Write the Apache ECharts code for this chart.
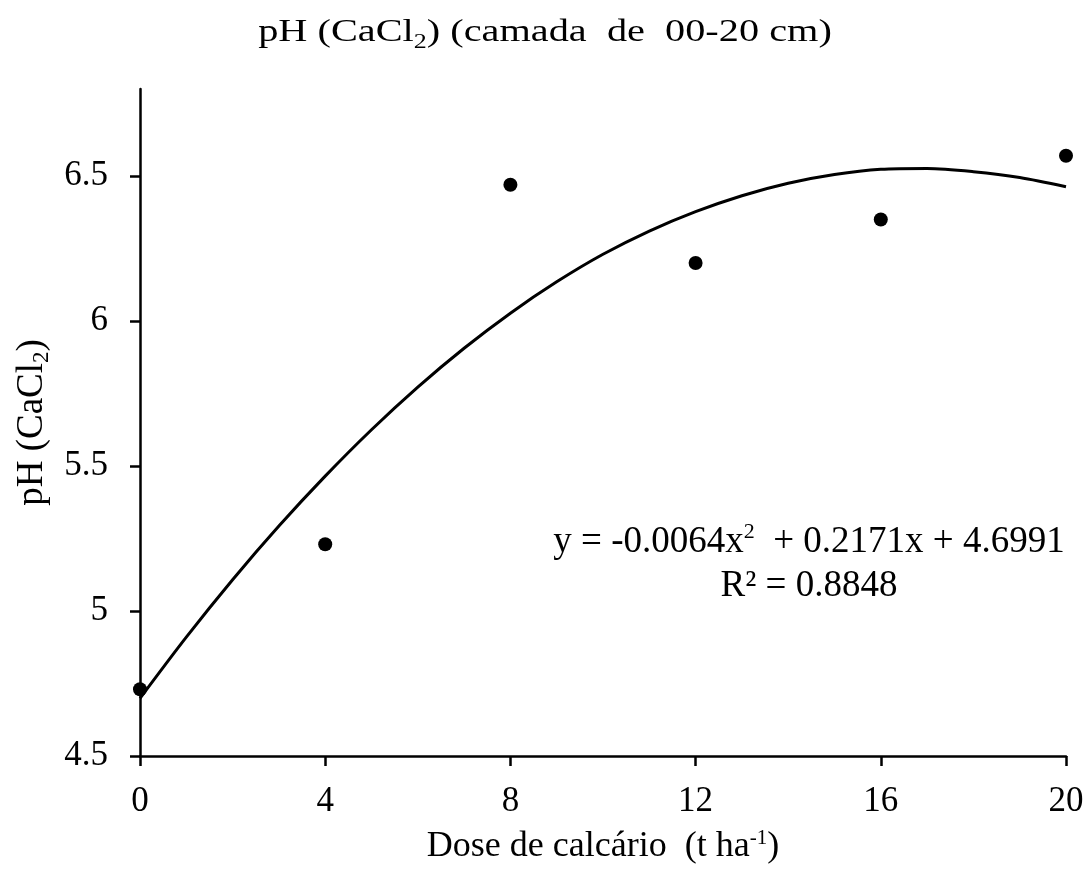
<!DOCTYPE html>
<html>
<head>
<meta charset="utf-8">
<script src="https://cdn.jsdelivr.net/npm/echarts@6/dist/echarts.min.js"></script>
<style>
  html, body { margin: 0; padding: 0; background: #fff; }
  #main { width: 1092px; height: 871px; }
</style>
</head>
<body>
<div id="main"></div>
<script>
// doses (t/ha) and measured pH
var doses = [0, 4, 8, 12, 16, 20];
var phValues = [4.73, 5.23, 6.47, 6.20, 6.35, 6.57];

// fitted curve at each dose 0..20
var curveX = [0, 1, 2, 3, 4, 5, 6, 7, 8, 9, 10, 11, 12, 13, 14, 15, 16, 17, 18, 19, 20];
var curveY = [4.699, 4.910, 5.108, 5.293, 5.465, 5.625, 5.772, 5.906, 6.027, 6.135, 6.230, 6.310, 6.377, 6.432, 6.475, 6.505, 6.523, 6.526, 6.515, 6.495, 6.463];

var yTicks = [4.5, 5, 5.5, 6, 6.5];

var serif = "'Liberation Serif', 'Times New Roman', serif";
var myChart;

window.onload = function () {
    myChart = echarts.init(document.getElementById('main'));

    var points = doses.map(function (d, i) { return [d, phValues[i]]; });
    var curve = curveX.map(function (d, i) { return [d, curveY[i]]; });

    var option = {
        backgroundColor: '#fff',
        animation: false,
        grid: { left: 140, right: 26, top: 89, bottom: 113 },
        xAxis: {
            type: 'value',
            min: 0,
            max: 20,
            interval: 4,
            name: 'Dose de calcário  (t ha{sup|-1})',
            nameLocation: 'middle',
            nameGap: 72,
            nameTextStyle: {
                fontFamily: serif, fontSize: 36, color: '#000', lineHeight: 38,
                rich: { sup: { fontFamily: serif, fontSize: 21, lineHeight: 26, verticalAlign: 'top', color: '#000' } }
            },
            axisLine: { lineStyle: { color: '#000', width: 2.5 } },
            axisTick: { inside: false, length: 10, lineStyle: { color: '#000', width: 2.5 } },
            axisLabel: { fontFamily: serif, fontSize: 35, color: '#000', margin: 28 },
            splitLine: { show: false }
        },
        yAxis: {
            type: 'value',
            min: 4.5,
            max: 6.8,
            name: 'pH (CaCl{sub|2})',
            nameLocation: 'middle',
            nameGap: 82,
            nameTextStyle: {
                fontFamily: serif, fontSize: 37, color: '#000', lineHeight: 42,
                rich: { sub: { fontFamily: serif, fontSize: 23, lineHeight: 29, verticalAlign: 'bottom', color: '#000' } }
            },
            axisLine: { show: true, lineStyle: { color: '#000', width: 2.5 } },
            axisTick: { show: true, length: 10, customValues: yTicks, lineStyle: { color: '#000', width: 2.5 } },
            axisLabel: {
                fontFamily: serif, fontSize: 35, color: '#000', margin: 32,
                customValues: yTicks,
                formatter: function (v) { return String(v); }
            },
            splitLine: { show: false }
        },
        series: [
            {
                name: 'ajuste',
                type: 'line',
                data: curve,
                smooth: 0.3,
                showSymbol: false,
                lineStyle: { color: '#000', width: 3 },
                z: 2
            },
            {
                name: 'pH',
                type: 'scatter',
                data: points,
                symbol: 'circle',
                symbolSize: 14,
                itemStyle: { color: '#000', opacity: 1 },
                z: 3
            }
        ],
        graphic: [
            {
                // title (the original is drawn horizontally stretched)
                type: 'text',
                x: 545,
                y: 33,
                scaleX: 1.3,
                style: {
                    text: 'pH (CaCl{sub|2}) (camada  de  00-20 cm)',
                    fontFamily: serif,
                    fontSize: 31,
                    fill: '#000',
                    align: 'center',
                    verticalAlign: 'middle',
                    lineHeight: 40,
                    rich: {
                        sub: { fontFamily: serif, fontSize: 20, lineHeight: 26, verticalAlign: 'bottom', fill: '#000' }
                    }
                }
            },
            {
                type: 'text',
                x: 809,
                y: 542,
                style: {
                    text: 'y = -0.0064x{sup|2}  + 0.2171x + 4.6991',
                    fontFamily: serif,
                    fontSize: 37,
                    fill: '#000',
                    align: 'center',
                    verticalAlign: 'middle',
                    lineHeight: 42,
                    rich: {
                        sup: { fontFamily: serif, fontSize: 22, lineHeight: 28, verticalAlign: 'top', fill: '#000' }
                    }
                }
            },
            {
                type: 'text',
                x: 809,
                y: 586,
                style: {
                    text: 'R² = 0.8848',
                    fontFamily: serif,
                    fontSize: 37,
                    fill: '#000',
                    align: 'center',
                    verticalAlign: 'middle'
                }
            }
        ]
    };
    myChart.setOption(option);
};
window.onresize = function () {
    if (myChart) myChart.resize();
};
</script>
</body>
</html>
